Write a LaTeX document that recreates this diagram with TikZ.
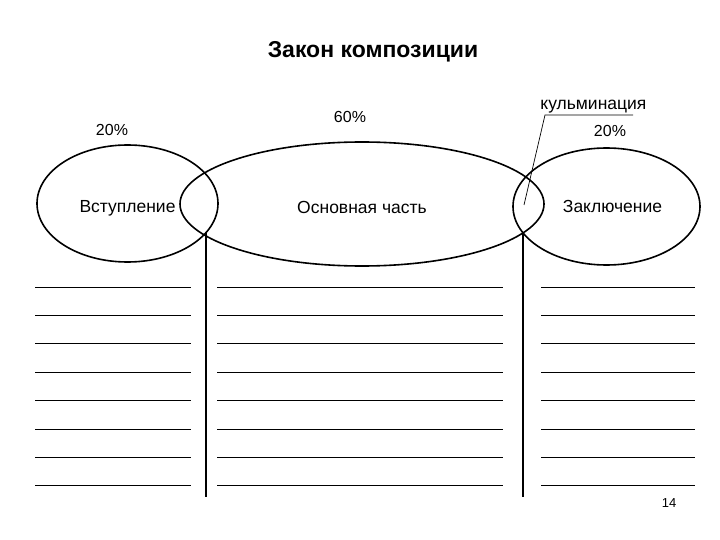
\documentclass[tikz,border=0pt]{standalone}
\usepackage{fontspec}
\setmainfont{Liberation Sans}
\usepackage{tikz}
\usetikzlibrary{shapes.geometric,calc}

\begin{document}
\begin{tikzpicture}[x=1pt,y=-1pt,font=\fontsize{16}{18}\selectfont]
\tikzstyle{part}=[ellipse,draw,line width=1.6pt,inner sep=0]
\tikzstyle{part name}=[font=\fontsize{17.5}{19}\selectfont]
\tikzstyle{rule line}=[line width=0.9pt]
\tikzstyle{divider}=[line width=1.8pt]
\tikzstyle{percent}=[inner sep=0]

\useasboundingbox (0,0) rectangle (720,540);

% title
\node(title) at (373,52) {\fontsize{23}{25}\selectfont\bfseries Закон композиции};

% the three parts
\node(main)[part,minimum width=364pt,minimum height=124pt,
  label={[part name,yshift=-3pt]center:Основная часть}] at (362,204) {};
\node(intro)[part,minimum width=181pt,minimum height=117pt,
  label={[part name,yshift=-5pt]center:Вступление}] at (127.5,203.5) {};
\node(outro)[part,minimum width=187pt,minimum height=117pt,
  label={[part name,xshift=6pt]center:Заключение}] at (606.5,206.5) {};

% shares
\node(introshare)[percent] at (112,130) {20\%};
\node(mainshare)[percent] at (350,117) {60\%};
\node(outroshare)[percent] at (610,131) {20\%};

% culmination pointer
\coordinate(peak) at (524,205);
\coordinate(bend) at (545,115);
\coordinate(tail) at (633,115);
\draw[line width=0.7pt] (peak) -- (bend) -- (tail);
\node(culm)[anchor=south,inner sep=2pt] at ($(bend)!.55!(tail)$) {\fontsize{17.5}{19}\selectfont кульминация};

% dividers under the crossings
\coordinate(leftcross) at (206,233);
\coordinate(leftfoot) at (206,497);
\coordinate(rightcross) at (523,233);
\coordinate(rightfoot) at (523,497);
\draw[divider] (leftcross) -- (leftfoot);
\draw[divider] (rightcross) -- (rightfoot);

% lines to write on
\foreach \y in {287,315,343,372,400,429,457,485}{
  \draw[rule line] (35,\y) -- (191,\y);
  \draw[rule line] (217,\y) -- (503,\y);
  \draw[rule line] (541,\y) -- (695,\y);
}

% page number
\node(page) at (669,503) {\fontsize{13}{15}\selectfont 14};

\end{tikzpicture}
\end{document}
